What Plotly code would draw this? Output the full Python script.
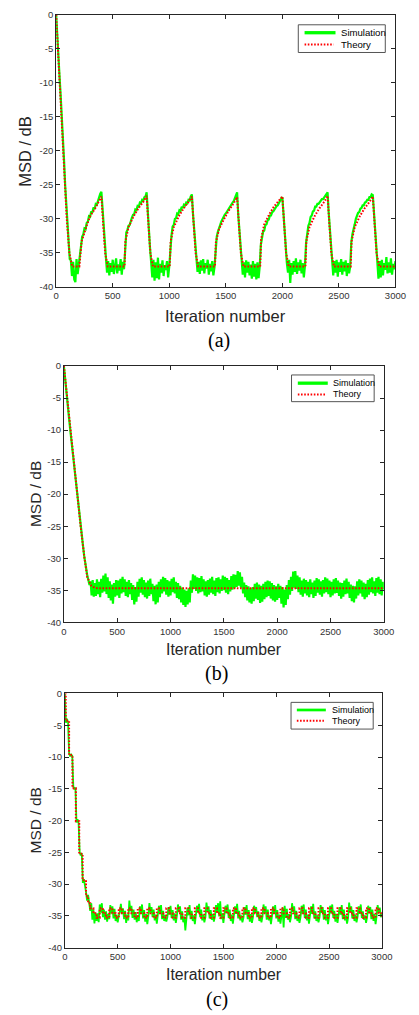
import plotly.graph_objects as go

# ---------------- data ----------------
x_tick_vals = [0, 500, 1000, 1500, 2000, 2500, 3000]
x_tick_text = ["0", "500", "1000", "1500", "2000", "2500", "3000"]
y_tick_vals = [0, -5, -10, -15, -20, -25, -30, -35, -40]
y_tick_text = ["0", "-5", "-10", "-15", "-20", "-25", "-30", "-35", "-40"]
series_names = ["Simulation", "Theory"]
captions = ["(a)", "(b)", "(c)"]

# iteration index of the simulation samples (every 10 iterations)
sim_iters = list(range(0, 3001, 10))

# ---- panel (a) ----  (one row = 100 iterations)
sim_a = [0, -3.6, -7.2, -9.1, -11.9, -14.6, -18.2, -21.5, -25.2, -28.4,
         -31.5, -33.6, -35.9, -36.1, -38.4, -36.3, -38.9, -39.3, -35.9, -38.1,
         -36.6, -35.2, -33.6, -32.6, -32.3, -31.4, -31.5, -30.6, -30.4, -29.6,
         -29.7, -28.9, -29.1, -28.3, -28.6, -27.8, -27.9, -27.3, -27.1, -26.3,
         -26.0, -28.9, -31.4, -34.1, -35.7, -37.9, -36.2, -38.3, -36.5, -37.8,
         -36.0, -38.1, -37.2, -35.8, -38.0, -36.7, -37.6, -35.9, -38.2, -36.3,
         -37.4, -33.8, -32.0, -31.6, -31.0, -30.9, -30.1, -29.8, -29.4, -29.3,
         -28.6, -28.7, -28.1, -28.2, -27.6, -27.7, -27.2, -27.3, -26.8, -26.7,
         -26.1, -29.2, -31.8, -34.3, -36.4, -38.6, -36.0, -39.1, -36.4, -38.7,
         -35.7, -38.9, -36.6, -37.9, -36.1, -38.4, -36.8, -37.5, -36.2, -38.6,
         -37.0, -33.6, -32.4, -31.1, -30.9, -30.0, -29.9, -29.2, -29.3, -28.7,
         -28.8, -28.2, -28.4, -27.9, -28.0, -27.6, -27.7, -27.2, -27.3, -26.7,
         -26.4, -29.3, -31.6, -34.0, -35.9, -37.8, -36.3, -38.1, -36.1, -37.6,
         -35.9, -38.0, -36.5, -37.3, -36.0, -38.2, -36.6, -37.7, -36.2, -38.3,
         -37.1, -34.3, -32.6, -31.9, -31.2, -30.9, -30.4, -30.0, -29.8, -29.4,
         -29.2, -28.9, -28.6, -28.4, -28.1, -27.9, -27.6, -27.4, -27.0, -26.6,
         -26.1, -29.4, -32.0, -34.5, -36.2, -38.2, -36.4, -38.6, -36.1, -37.9,
         -36.3, -38.3, -36.7, -38.8, -36.2, -38.5, -36.6, -38.9, -36.4, -38.7,
         -37.0, -33.8, -32.8, -31.9, -31.7, -30.9, -30.8, -30.2, -30.1, -29.5,
         -29.5, -29.0, -28.9, -28.6, -28.5, -28.1, -28.0, -27.6, -27.4, -27.0,
         -26.8, -29.5, -32.0, -34.4, -36.5, -37.9, -36.0, -39.4, -36.5, -38.2,
         -36.2, -37.8, -35.8, -38.1, -36.4, -37.6, -36.0, -38.0, -36.5, -38.6,
         -36.9, -33.5, -31.9, -31.0, -30.6, -29.7, -29.5, -28.9, -28.8, -28.2,
         -28.2, -27.8, -27.8, -27.5, -27.4, -27.1, -27.1, -26.8, -26.7, -26.2,
         -26.1, -29.1, -31.7, -34.2, -36.0, -38.3, -36.2, -37.9, -36.0, -38.5,
         -36.4, -37.8, -35.9, -38.2, -36.3, -37.7, -36.1, -38.4, -36.5, -38.0,
         -37.0, -33.4, -32.2, -31.2, -30.8, -30.0, -29.6, -29.1, -29.0, -28.5,
         -28.4, -28.0, -28.0, -27.6, -27.5, -27.2, -27.2, -26.8, -26.8, -26.4,
         -26.5, -29.3, -31.9, -34.3, -36.3, -38.8, -36.2, -38.6, -36.0, -38.3,
         -36.5, -37.5, -35.6, -38.0, -36.4, -37.9, -35.8, -38.2, -36.6, -37.4,
         -36.2]

theory_a_x = [0, 15, 34, 51, 66, 80, 94, 117, 142, 205, 225, 270, 300, 340, 370, 400,
              413, 433, 456, 604, 612, 640, 685, 725, 770, 800,
              813, 833, 856, 1004, 1012, 1040, 1085, 1125, 1170, 1200,
              1213, 1233, 1256, 1404, 1412, 1440, 1485, 1525, 1570, 1600,
              1613, 1633, 1656, 1804, 1812, 1840, 1885, 1925, 1970, 2000,
              2013, 2033, 2056, 2204, 2212, 2240, 2285, 2325, 2370, 2400,
              2413, 2433, 2456, 2604, 2612, 2640, 2685, 2725, 2770, 2800,
              2813, 2833, 2856, 3000]
theory_a_y = [0, -5, -10, -15, -20, -25, -30, -35, -37, -37, -33.3, -31.0, -29.6, -28.6, -27.7, -26.7,
              -30, -35, -37, -37, -33.3, -31.2, -29.6, -28.5, -27.5, -26.6,
              -30, -35, -37, -37, -33.3, -31.2, -29.6, -28.5, -27.5, -26.7,
              -30, -35, -37, -37, -33.5, -31.5, -30.0, -28.8, -27.7, -26.8,
              -30, -35, -37, -37, -33.0, -30.8, -29.3, -28.2, -27.3, -26.7,
              -30, -35, -37, -37, -33.3, -31.2, -29.6, -28.5, -27.5, -26.6,
              -30, -35, -37, -37, -33.3, -31.2, -29.6, -28.5, -27.5, -26.7,
              -30, -35, -37, -37]

# ---- panel (b) ----  (one row = 100 iterations)
sim_b = [0, -1.9, -3.4, -5.0, -6.7, -8.4, -10.0, -11.6, -13.3, -14.9,
         -16.5, -18.1, -19.6, -21.1, -22.6, -24.0, -25.4, -26.8, -28.2, -29.6,
         -30.9, -31.9, -32.8, -33.4, -34.2, -33.6, -35.8, -33.4, -36.0, -33.9,
         -35.9, -33.3, -35.6, -33.7, -36.1, -33.2, -35.4, -32.7, -35.2, -32.4,
         -35.6, -33.0, -36.2, -33.6, -36.6, -34.1, -37.1, -33.9, -36.0, -33.4,
         -35.8, -33.5, -36.2, -33.2, -35.5, -32.9, -35.3, -33.3, -35.9, -33.7,
         -36.1, -33.4, -35.6, -33.9, -36.5, -34.2, -37.2, -34.5, -36.8, -33.7,
         -36.0, -33.2, -35.4, -33.0, -35.7, -33.4, -36.1, -33.8, -36.3, -33.5,
         -35.9, -33.2, -35.6, -34.0, -36.7, -34.3, -37.2, -34.1, -36.9, -33.7,
         -36.1, -33.3, -35.5, -32.9, -35.2, -33.1, -35.7, -33.4, -36.0, -33.6,
         -35.8, -33.2, -35.3, -33.0, -35.5, -33.7, -36.2, -33.9, -36.4, -34.3,
         -36.9, -34.6, -37.3, -34.9, -37.6, -35.1, -37.2, -34.7, -36.9, -33.5,
         -35.4, -32.5, -34.8, -32.7, -35.1, -33.0, -35.5, -33.1, -35.3, -32.8,
         -35.2, -33.3, -35.8, -33.6, -36.0, -33.4, -35.7, -33.2, -35.4, -32.9,
         -35.6, -33.5, -35.9, -33.1, -35.3, -33.0, -35.5, -33.3, -35.1, -32.7,
         -35.0, -32.9, -35.4, -33.1, -35.6, -33.4, -35.2, -32.8, -34.9, -32.5,
         -34.7, -32.6, -34.5, -32.0, -34.3, -32.2, -34.6, -32.9, -35.5, -33.8,
         -36.1, -34.2, -36.6, -34.4, -36.9, -34.7, -37.1, -34.5, -36.7, -34.0,
         -36.3, -33.8, -36.5, -34.1, -37.0, -34.3, -36.8, -34.0, -36.4, -33.7,
         -36.1, -33.5, -35.9, -33.6, -36.3, -33.9, -36.6, -34.2, -36.8, -34.4,
         -36.5, -34.0, -36.2, -34.3, -37.1, -34.5, -37.7, -34.9, -37.3, -34.2,
         -36.4, -33.4, -35.7, -32.9, -35.1, -32.1, -34.6, -32.0, -34.8, -32.7,
         -35.3, -33.0, -35.7, -33.5, -36.0, -33.2, -35.5, -33.4, -35.8, -33.7,
         -36.1, -33.3, -35.6, -33.8, -36.2, -33.5, -35.9, -33.1, -35.4, -33.3,
         -35.7, -33.6, -36.0, -33.4, -35.5, -33.0, -35.3, -33.2, -35.6, -33.5,
         -36.1, -33.7, -35.8, -33.3, -35.5, -33.1, -35.4, -33.5, -35.9, -33.8,
         -36.3, -33.9, -36.0, -33.5, -35.6, -33.2, -35.5, -33.7, -36.2, -34.1,
         -36.7, -34.3, -36.9, -34.4, -36.3, -33.6, -35.8, -33.3, -35.5, -33.5,
         -36.0, -33.8, -36.4, -34.0, -36.1, -33.4, -35.7, -33.2, -35.3, -33.0,
         -35.5, -33.6, -35.9, -33.1, -35.4, -32.9, -35.6, -33.3, -35.8, -33.7,
         -34.9]

theory_b_x = [0, 30, 60, 92, 124, 157, 193, 220, 236, 257, 275, 300, 332, 3000]
theory_b_y = [0, -5, -10, -15, -20, -25, -30, -33.0, -33.6, -34.3, -34.5, -34.65, -34.7, -34.7]

# ---- panel (c) ----  (one row = 100 iterations)
sim_c = [0, -4.6, -4.0, -4.5, -9.4, -9.9, -9.6, -9.8, -14.6, -15.1,
         -14.8, -20.3, -19.8, -20.4, -25.0, -25.5, -25.1, -29.8, -29.2, -30.0,
         -31.2, -32.6, -31.7, -32.9, -34.2, -33.0, -35.6, -34.0, -36.2, -34.5,
         -35.8, -34.6, -36.0, -33.2, -34.5, -33.0, -35.2, -34.0, -35.6, -34.3,
         -35.9, -34.7, -35.5, -33.3, -34.6, -33.5, -35.4, -33.9, -35.8, -34.8,
         -36.0, -35.0, -34.4, -33.1, -34.7, -33.8, -35.5, -34.2, -36.1, -34.8,
         -35.7, -32.6, -34.3, -33.4, -35.3, -34.0, -35.6, -34.4, -36.0, -34.9,
         -35.8, -33.5, -34.7, -33.2, -35.4, -34.1, -35.9, -34.7, -36.3, -35.0,
         -33.0, -34.5, -33.6, -35.2, -34.0, -35.7, -34.8, -36.2, -35.1, -33.4,
         -34.6, -33.3, -35.5, -34.2, -35.8, -34.9, -35.9, -35.2, -33.6, -34.8,
         -33.4, -35.3, -34.1, -35.7, -34.6, -36.1, -35.0, -33.2, -34.4, -33.5,
         -35.6, -34.3, -36.0, -35.1, -37.3, -35.4, -33.7, -34.9, -33.3, -35.5,
         -34.2, -35.8, -34.9, -36.3, -35.0, -33.4, -34.5, -33.1, -35.2, -34.0,
         -35.7, -34.8, -36.0, -35.2, -32.9, -34.3, -33.5, -35.4, -34.1, -35.6,
         -34.7, -35.9, -35.1, -33.3, -34.5, -33.0, -35.1, -32.7, -35.5, -34.6,
         -36.1, -35.0, -33.4, -34.6, -33.2, -35.3, -34.0, -35.8, -34.8, -36.2,
         -35.0, -33.5, -34.7, -33.1, -35.4, -34.2, -35.7, -34.9, -36.0, -35.3,
         -33.6, -34.8, -33.3, -35.5, -34.1, -35.9, -34.7, -36.1, -35.2, -33.4,
         -34.5, -33.6, -35.2, -34.3, -35.8, -34.8, -36.0, -35.1, -33.2, -34.6,
         -33.5, -35.6, -34.0, -35.7, -34.9, -36.3, -35.0, -33.5, -34.7, -33.3,
         -35.4, -34.1, -35.9, -34.8, -36.2, -35.2, -33.7, -36.8, -33.4, -35.3,
         -33.9, -35.6, -34.7, -36.0, -35.1, -33.0, -34.4, -33.5, -35.5, -34.2,
         -35.8, -34.9, -36.1, -35.2, -33.4, -34.6, -33.2, -35.3, -34.0, -35.7,
         -34.8, -36.2, -35.0, -33.5, -34.7, -33.1, -35.4, -34.3, -35.8, -34.9,
         -36.0, -35.2, -33.3, -34.5, -33.6, -35.6, -34.1, -35.7, -34.8, -36.3,
         -35.1, -33.4, -34.6, -33.2, -35.3, -34.2, -35.9, -34.7, -36.1, -35.0,
         -33.6, -34.8, -33.3, -35.5, -34.0, -35.7, -34.9, -36.2, -35.3, -32.9,
         -34.4, -33.5, -35.4, -34.1, -35.8, -34.8, -36.0, -35.1, -33.5, -34.7,
         -33.2, -35.3, -34.3, -35.6, -34.9, -36.1, -35.2, -33.4, -34.6, -33.6,
         -35.5, -34.0, -35.8, -34.7, -36.3, -35.0, -33.3, -34.5, -33.7, -35.2,
         -34.6]

# theory (c): level held over each block, block start iterations
theory_c_x = [0, 8, 40, 72, 104, 136, 168, 200, 220,
              240, 270, 300, 330, 360, 390, 420, 450, 480, 510, 540, 570, 600, 630, 660, 690,
              720, 750, 780, 810, 840, 870, 900, 930, 960, 990, 1020, 1050, 1080, 1110, 1140,
              1170, 1200, 1230, 1260, 1290, 1320, 1350, 1380, 1410, 1440, 1470, 1500, 1530, 1560,
              1590, 1620, 1650, 1680, 1710, 1740, 1770, 1800, 1830, 1860, 1890, 1920, 1950, 1980,
              2010, 2040, 2070, 2100, 2130, 2160, 2190, 2220, 2250, 2280, 2310, 2340, 2370, 2400,
              2430, 2460, 2490, 2520, 2550, 2580, 2610, 2640, 2670, 2700, 2730, 2760, 2790, 2820,
              2850, 2880, 2910, 2940, 2970, 3000]
theory_c_y = [0, -4.3, -9.7, -14.9, -20.1, -25.2, -29.4, -31.9, -33.0,
              -33.8, -34.6, -35.3, -33.8, -34.6, -35.3, -33.8, -34.6, -35.3, -33.8, -34.6, -35.3,
              -33.8, -34.6, -35.3, -33.8, -34.6, -35.3, -33.8, -34.6, -35.3, -33.8, -34.6, -35.3,
              -33.8, -34.6, -35.3, -33.8, -34.6, -35.3, -33.8, -34.6, -35.3, -33.8, -34.6, -35.3,
              -33.8, -34.6, -35.3, -33.8, -34.6, -35.3, -33.8, -34.6, -35.3, -33.8, -34.6, -35.3,
              -33.8, -34.6, -35.3, -33.8, -34.6, -35.3, -33.8, -34.6, -35.3, -33.8, -34.6, -35.3,
              -33.8, -34.6, -35.3, -33.8, -34.6, -35.3, -33.8, -34.6, -35.3, -33.8, -34.6, -35.3,
              -33.8, -34.6, -35.3, -33.8, -34.6, -35.3, -33.8, -34.6, -35.3, -33.8, -34.6, -35.3,
              -33.8, -34.6, -35.3, -33.8, -34.6, -35.3, -33.8, -34.6, -35.3]

# ---------------- layout helpers ----------------
W, H = 419, 1015
FONT = "Liberation Sans, Arial, Helvetica, sans-serif"
SERIF = "Liberation Serif, Times New Roman, serif"
AX_COLOR = "#262626"
GREEN = "#00FF00"
RED = "#FF0000"


def fx(px):
    return px / W


def fy(py):
    return 1 - py / H


# panel geometry in pixels: left, right, top, bottom
panels = [
    dict(l=55, r=406, t=9, b=284, sim_w=2.2, leg=dict(l=305.5, r=395.5, t=19, b=47, line_x0=312, line_x1=344,
         y1=27.0, y2=39.0, tx=348, fs=9.6, gw=3.3), ytx=22.7, xty=313, cap_y=338, cap_x=223,
         title_fs=16.5, ytitle_fs=16.5),
    dict(l=63, r=394, t=364, b=623, sim_w=2.2, leg=dict(l=298.5, r=384, t=373, b=400, line_x0=305, line_x1=336,
         y1=381.3, y2=392.7, tx=339, fs=9.0, gw=3.3), ytx=33, xty=651, cap_y=675, cap_x=221,
         title_fs=15.8, ytitle_fs=15.5),
    dict(l=64, r=392, t=695, b=952, sim_w=1.8, leg=dict(l=298, r=383, t=704, b=731, line_x0=304, line_x1=334,
         y1=711.7, y2=722.7, tx=338, fs=9.0, gw=2.7), ytx=34, xty=979, cap_y=1004, cap_x=221,
         title_fs=15.8, ytitle_fs=15.5),
]

sims = [sim_a, sim_b, sim_c]
theories = [(theory_a_x, theory_a_y, "linear"), (theory_b_x, theory_b_y, "linear"), (theory_c_x, theory_c_y, "hv")]

fig = go.Figure()
layout = dict(width=W, height=H, margin=dict(l=0, r=0, t=0, b=0),
              paper_bgcolor="white", plot_bgcolor="white", showlegend=False,
              font=dict(family=FONT, color=AX_COLOR))
shapes = []
annotations = []

for i, p in enumerate(panels):
    n = "" if i == 0 else str(i + 1)
    xa, ya = "x" + n, "y" + n
    fig.add_trace(go.Scatter(x=sim_iters, y=sims[i], xaxis=xa, yaxis=ya, mode="lines",
                             name=series_names[0], line=dict(color=GREEN, width=p["sim_w"])))
    tx, ty, shape = theories[i]
    fig.add_trace(go.Scatter(x=tx, y=ty, xaxis=xa, yaxis=ya, mode="lines", name=series_names[1],
                             line=dict(color=RED, width=2, dash="1.6px,1.6px", shape=shape)))
    common = dict(showgrid=False, zeroline=False, showline=True, linecolor=AX_COLOR, linewidth=1,
                  mirror="ticks", ticks="inside", ticklen=4, tickwidth=1, tickcolor=AX_COLOR,
                  tickfont=dict(family=FONT, size=9.5, color="#333333"))
    layout["xaxis" + n] = dict(domain=[fx(p["l"]), fx(p["r"])], range=[0, 3000], anchor=ya,
                               tickvals=x_tick_vals, ticktext=x_tick_text, **common)
    layout["yaxis" + n] = dict(domain=[fy(p["b"]), fy(p["t"])], range=[-40, 0], anchor=xa,
                               tickvals=y_tick_vals, ticktext=y_tick_text, **common)
    cx = (p["l"] + p["r"]) / 2
    cy = (p["t"] + p["b"]) / 2
    annotations.append(dict(text="Iteration number", x=fx(cx), y=fy(p["xty"]), xref="paper", yref="paper",
                            showarrow=False, xanchor="center", yanchor="middle",
                            font=dict(family=FONT, size=p["title_fs"], color=AX_COLOR)))
    annotations.append(dict(text="MSD / dB", x=fx(p["ytx"]), y=fy(cy), xref="paper", yref="paper",
                            showarrow=False, xanchor="center", yanchor="middle", textangle=-90,
                            font=dict(family=FONT, size=p["ytitle_fs"], color=AX_COLOR)))
    annotations.append(dict(text=captions[i], x=fx(p["cap_x"]), y=fy(p["cap_y"]), xref="paper", yref="paper",
                            showarrow=False, xanchor="center", yanchor="middle",
                            font=dict(family=SERIF, size=20, color="black")))
    # legend box
    lg = p["leg"]
    shapes.append(dict(type="rect", xref="paper", yref="paper", x0=fx(lg["l"]), x1=fx(lg["r"]),
                       y0=fy(lg["b"]), y1=fy(lg["t"]), line=dict(color="#555555", width=1),
                       fillcolor="white", layer="above"))
    shapes.append(dict(type="line", xref="paper", yref="paper", x0=fx(lg["line_x0"]), x1=fx(lg["line_x1"]),
                       y0=fy(lg["y1"]), y1=fy(lg["y1"]), line=dict(color=GREEN, width=lg["gw"]), layer="above"))
    shapes.append(dict(type="line", xref="paper", yref="paper", x0=fx(lg["line_x0"]), x1=fx(lg["line_x1"] - 2),
                       y0=fy(lg["y2"]), y1=fy(lg["y2"]), line=dict(color=RED, width=2, dash="1.6px,1.6px"),
                       layer="above"))
    for txt, yy in ((series_names[0], lg["y1"]), (series_names[1], lg["y2"])):
        annotations.append(dict(text=txt, x=fx(lg["tx"]), y=fy(yy), xref="paper", yref="paper",
                                showarrow=False, xanchor="left", yanchor="middle",
                                font=dict(family=FONT, size=lg["fs"], color="black")))

layout["shapes"] = shapes
layout["annotations"] = annotations
fig.update_layout(**layout)
fig.write_html("out.html")
